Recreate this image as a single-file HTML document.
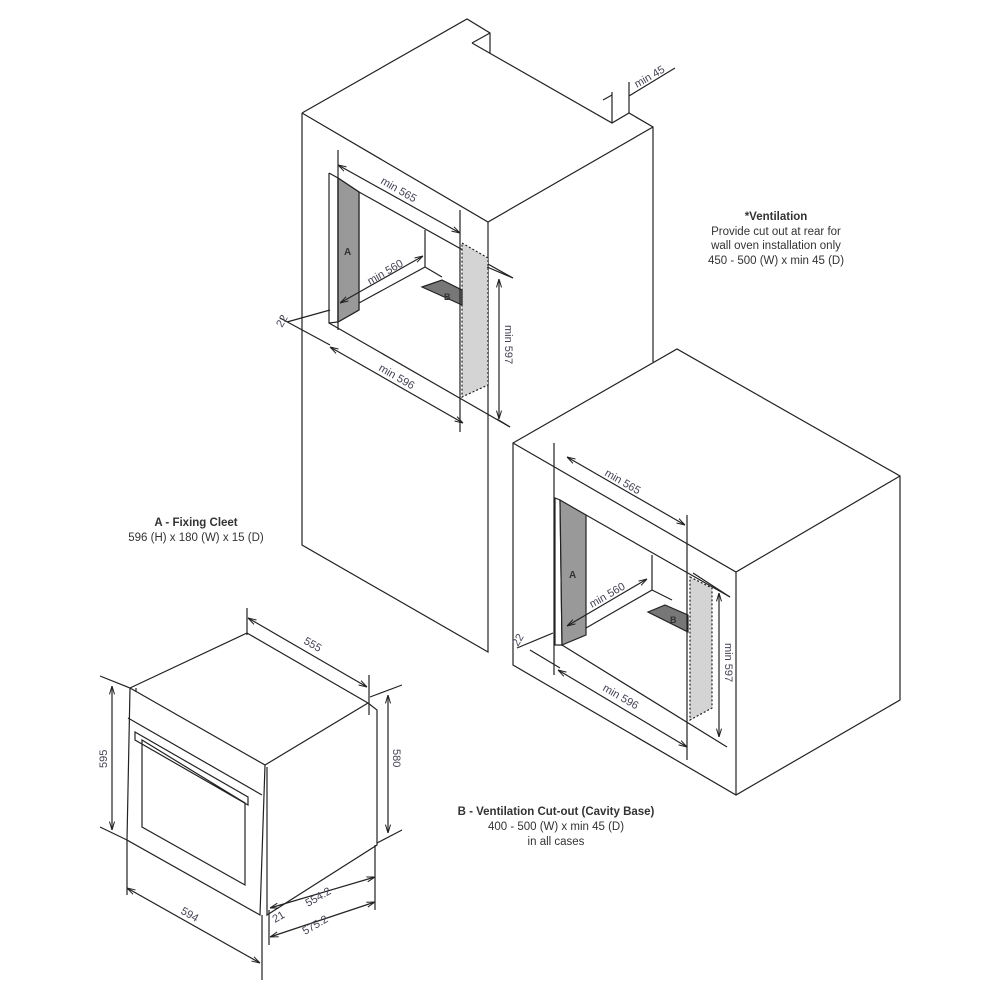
<!DOCTYPE html>
<html><head><meta charset="utf-8"><style>
html,body{margin:0;padding:0;background:#fff;}
svg{display:block;}
text{font-family:"Liberation Sans",sans-serif;fill:#333;}
.d{font-size:11px;fill:#445;}
.l{font-size:11.5px;}
</style></head><body>
<svg width="1000" height="1000" viewBox="0 0 1000 1000" xmlns="http://www.w3.org/2000/svg">
<defs><marker id="a" viewBox="0 0 10 10" refX="10" refY="5" markerWidth="7" markerHeight="7" orient="auto-start-reverse"><path d="M0,2 L10,5 L0,8" fill="none" stroke="#222" stroke-width="1.2"/></marker></defs>
<g fill="none" stroke="#222" stroke-width="1.2">
<!-- tall cabinet -->
<path d="M302,113 L467,19 L490,33 L490,53 M472,43 L490,33 M472,43 L612,123 L629,113 L653,127 L653,362"/>
<path d="M302,113 L488,222 L653,127 M302,113 L302,545 L488,652 L488,222"/>
<path d="M612,123 L612,92 M629,113 L629,82 M603,100 L612,95 M629,96 L675,68" />
<!-- opening tall -->
<path d="M329,173 L329,323 L338,322 L338,178 L329,173 M338,178 L359,192 L359,310 L338,322"/>
<path fill="#999" d="M338,178 L359,192 L359,310 L338,322 Z"/>
<path d="M359,192 L513,278 M425,230 L425,267 L359,303 M425,267 L442,277 M329,323 L510,427"/>
<path fill="#d4d4d4" stroke-dasharray="2,2" d="M462,243 L488,258 L488,385 L462,397 Z"/>
<path fill="#777" d="M422,287 L442,280 L462,290 L462,305 Z"/>
<path d="M338,150 L338,330 M460,210 L460,432 M287,322 L330,310 M280,318 L330,345"/>
<path d="M338,165 L460,233" marker-start="url(#a)" marker-end="url(#a)"/>
<path d="M340,303 L423,256" marker-start="url(#a)" marker-end="url(#a)"/>
<path d="M330,347 L463,423" marker-start="url(#a)" marker-end="url(#a)"/>
<path d="M499,279 L499,419" marker-start="url(#a)" marker-end="url(#a)"/>
<path d="M487,267 L513,278 M497,419 L510,427"/>
<!-- right cabinet -->
<path d="M513,443 L677,349 L900,476 L900,700 L736,795 L513,665 Z M513,443 L736,572 L900,476 M736,572 L736,795"/>
<path d="M555,498 L555,645 L562,645 L560,500 Z"/>
<path fill="#999" d="M560,500 L586,515 L586,635 L562,645 Z"/>
<path d="M586,515 L730,597 M652,555 L652,590 L586,628 M652,590 L672,600 M562,645 L727,747"/>
<path fill="#d4d4d4" stroke-dasharray="2,2" d="M690,577 L712,588 L712,708 L690,720 Z"/>
<path fill="#777" d="M648,612 L665,605 L688,615 L688,632 Z"/>
<path d="M554,443 L554,675 M687,515 L687,760 M517,648 L553,633 M530,650 L560,668"/>
<path d="M567,457 L685,525" marker-start="url(#a)" marker-end="url(#a)"/>
<path d="M567,626 L647,579" marker-start="url(#a)" marker-end="url(#a)"/>
<path d="M558,670 L687,747" marker-start="url(#a)" marker-end="url(#a)"/>
<path d="M719,593 L719,737" marker-start="url(#a)" marker-end="url(#a)"/>
<path d="M693,573 L730,597"/>
<!-- oven -->
<path d="M130,688 L127,840 L260,915 L265,765 L130,688 M130,688 L247,633 L368,703 L265,765"/>
<path d="M136,688 L136,692 M128,718 L262,795 M267,767 L267,915 L377,845 L377,710 L368,703"/>
<path d="M142,740 L245,803 L245,885 L142,827 Z M135,732 L248,797 L248,805 L135,740 Z"/>
<path d="M112,686 L112,830" marker-start="url(#a)" marker-end="url(#a)"/>
<path d="M100,676 L130,688 M100,827 L127,840"/>
<path d="M388,695 L388,833" marker-start="url(#a)" marker-end="url(#a)"/>
<path d="M370,697 L402,685 M377,843 L402,830"/>
<path d="M248,618 L367,687" marker-start="url(#a)" marker-end="url(#a)"/>
<path d="M247,608 L247,635 M369,675 L369,715"/>
<path d="M127,888 L260,963" marker-start="url(#a)" marker-end="url(#a)"/>
<path d="M127,840 L127,895 M262,915 L262,980 M375,845 L375,910 M269,910 L269,945"/>
<path d="M270,908 L375,877" marker-start="url(#a)" marker-end="url(#a)"/>
<path d="M270,937 L375,902" marker-start="url(#a)" marker-end="url(#a)"/>
</g>
<!-- labels -->
<text class="d" transform="translate(380,183) rotate(30)">min 565</text>
<text class="d" transform="translate(370,285) rotate(-30)">min 560</text>
<text class="d" transform="translate(378,370) rotate(30)">min 596</text>
<text class="d" transform="translate(505,325) rotate(90)">min 597</text>
<text class="d" transform="translate(637,88) rotate(-30)">min 45</text>
<text class="d" transform="translate(282,328) rotate(-60)">22</text>
<text style="font-size:10px;font-weight:bold" x="344" y="255">A</text>
<text style="font-size:9px;font-weight:bold" x="444" y="300">B</text>
<text class="d" transform="translate(604,475) rotate(30)">min 565</text>
<text class="d" transform="translate(592,608) rotate(-30)">min 560</text>
<text class="d" transform="translate(602,690) rotate(30)">min 596</text>
<text class="d" transform="translate(725,643) rotate(90)">min 597</text>
<text class="d" transform="translate(518,647) rotate(-60)">22</text>
<text style="font-size:10px;font-weight:bold" x="569" y="578">A</text>
<text style="font-size:9px;font-weight:bold" x="670" y="623">B</text>
<text class="d" transform="translate(303,643) rotate(30)">555</text>
<text class="d" transform="translate(107,768) rotate(-90)">595</text>
<text class="d" transform="translate(393,749) rotate(90)">580</text>
<text class="d" transform="translate(180,913) rotate(30)">594</text>
<text class="d" transform="translate(308,907) rotate(-30)">554.2</text>
<text class="d" transform="translate(305,935) rotate(-30)">575.2</text>
<text class="d" transform="translate(275,923) rotate(-30)">21</text>
<text class="l" x="776" y="220" text-anchor="middle" style="font-weight:bold">*Ventilation</text>
<text class="l" x="776" y="235" text-anchor="middle">Provide cut out at rear for</text>
<text class="l" x="776" y="249" text-anchor="middle">wall oven installation only</text>
<text class="l" x="776" y="264" text-anchor="middle">450 - 500 (W) x min 45 (D)</text>
<text class="l" x="196" y="526" text-anchor="middle" style="font-weight:bold">A - Fixing Cleet</text>
<text class="l" x="196" y="541" text-anchor="middle">596 (H) x 180 (W) x 15 (D)</text>
<text class="l" x="556" y="815" text-anchor="middle" style="font-weight:bold">B - Ventilation Cut-out (Cavity Base)</text>
<text class="l" x="556" y="830" text-anchor="middle">400 - 500 (W) x min 45 (D)</text>
<text class="l" x="556" y="845" text-anchor="middle">in all cases</text>
</svg>
</body></html>
